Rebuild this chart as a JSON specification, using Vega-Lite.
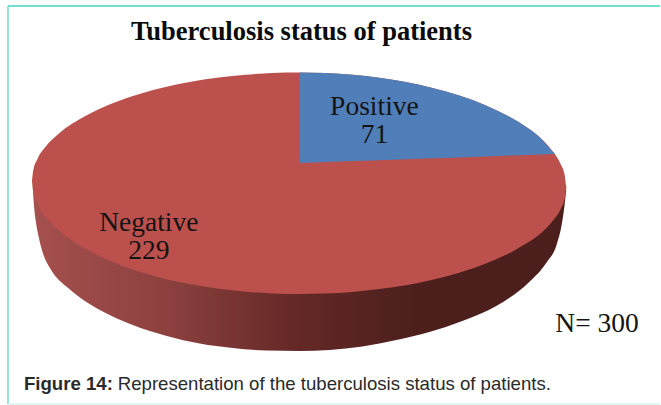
{"$schema":"https://vega.github.io/schema/vega-lite/v6.json","width":661,"height":405,"padding":0,"autosize":{"type":"fit","contains":"padding"},"background":"white","view":{"stroke":null},
"encoding":{"x":{"field":"x","type":"quantitative","scale":{"domain":[0,661]},"axis":null},"y":{"field":"y","type":"quantitative","scale":{"domain":[405,0]},"axis":null}},
"layer":[
{"data":{"values":[{"x":8,"y":6,"x2":661,"y2":6,"c":"#45d6bd"},{"x":8,"y":6,"x2":8,"y2":404,"c":"#6fdfcb"},{"x":8,"y":404,"x2":661,"y2":404,"c":"#d5f5ef"}]},"mark":{"type":"rule","strokeWidth":1.5},"encoding":{"x2":{"field":"x2"},"y2":{"field":"y2"},"color":{"field":"c","type":"nominal","scale":null}}},
{"data":{"values":[{"x":33,"y":185,"y2":190},{"x":34,"y":185,"y2":205},{"x":36,"y":185,"y2":222},{"x":39,"y":185,"y2":238},{"x":42,"y":185,"y2":250},{"x":50,"y":185,"y2":268},{"x":58,"y":185,"y2":279},{"x":67,"y":185,"y2":287},{"x":82,"y":185,"y2":299},{"x":100,"y":185,"y2":310},{"x":133,"y":185,"y2":325},{"x":167,"y":185,"y2":336},{"x":200,"y":185,"y2":343.5},{"x":233,"y":185,"y2":348},{"x":267,"y":185,"y2":350.5},{"x":300,"y":185,"y2":351},{"x":330,"y":185,"y2":350},{"x":363,"y":185,"y2":346.5},{"x":397,"y":185,"y2":340},{"x":430,"y":185,"y2":332},{"x":463,"y":185,"y2":321},{"x":497,"y":185,"y2":306},{"x":530,"y":185,"y2":282},{"x":547,"y":185,"y2":263},{"x":558,"y":185,"y2":243},{"x":563,"y":185,"y2":222},{"x":566,"y":185,"y2":200},{"x":567,"y":185,"y2":190}]},"mark":{"type":"area","interpolate":"monotone","fill":{"gradient":"linear","x1":0,"y1":0,"x2":1,"y2":0,"stops":[{"offset":0,"color":"#a5504e"},{"offset":0.25,"color":"#8c413f"},{"offset":0.5,"color":"#632826"},{"offset":0.72,"color":"#4c1f1d"},{"offset":1,"color":"#4c1f1d"}]}},"encoding":{"y2":{"field":"y2"}}},
{"data":{"values":[{"x":32,"y":181,"y2":181},{"x":33.3,"y":170.2,"y2":192.3},{"x":37.3,"y":159.4,"y2":203.5},{"x":45.4,"y":147.1,"y2":216.3},{"x":58.7,"y":133.7,"y2":230.3},{"x":72.1,"y":123.8,"y2":240.4},{"x":85.5,"y":115.9,"y2":248.8},{"x":112.2,"y":103.5,"y2":261.7},{"x":139,"y":94.2,"y2":271.4},{"x":165.7,"y":87,"y2":278.9},{"x":192.5,"y":81.5,"y2":284.6},{"x":219.2,"y":77.5,"y2":288.8},{"x":246,"y":74.7,"y2":291.7},{"x":272.7,"y":73,"y2":293.4},{"x":299.5,"y":72.5,"y2":294},{"x":326.3,"y":73.1,"y2":293.5},{"x":353,"y":74.8,"y2":291.9},{"x":379.8,"y":77.8,"y2":289.1},{"x":406.5,"y":82,"y2":285.2},{"x":433.2,"y":87.9,"y2":279.7},{"x":460,"y":95.5,"y2":272.7},{"x":486.7,"y":105.4,"y2":263.5},{"x":513.4,"y":118.5,"y2":251.4},{"x":527,"y":126.9,"y2":243.6},{"x":540.8,"y":137.4,"y2":234},{"x":553.6,"y":151.6,"y2":220.7},{"x":561.7,"y":164.6,"y2":208.8},{"x":565.7,"y":176,"y2":198.1},{"x":567,"y":187.5,"y2":187.5}]},"mark":{"type":"area","interpolate":"monotone","fill":"#bc504d"},"encoding":{"y2":{"field":"y2"}}},
{"data":{"values":[{"x":300,"y":72.5,"y2":163},{"x":326.3,"y":73.1,"y2":162.1},{"x":353,"y":74.8,"y2":161.1},{"x":379.8,"y":77.8,"y2":160.2},{"x":406.5,"y":82,"y2":159.3},{"x":433.2,"y":87.9,"y2":158.3},{"x":460,"y":95.5,"y2":157.4},{"x":486.7,"y":105.4,"y2":156.4},{"x":513.4,"y":118.5,"y2":155.5},{"x":527,"y":126.9,"y2":155},{"x":540.8,"y":137.4,"y2":154.5},{"x":553.6,"y":151.6,"y2":154.1},{"x":556,"y":154,"y2":154}]},"mark":{"type":"area","interpolate":"monotone","fill":"#4f7eb9"},"encoding":{"y2":{"field":"y2"}}},
{"data":{"values":[{"x":302,"y":32,"t":"Tuberculosis status of patients"}]},"mark":{"type":"text","font":"Liberation Serif","fontWeight":"bold","fontSize":26.5,"color":"#0a0a0a","align":"center","baseline":"middle"},"encoding":{"text":{"field":"t"}}},
{"data":{"values":[{"x":375,"y":107,"t":"Positive"},{"x":375,"y":135,"t":"71"},{"x":149,"y":223,"t":"Negative"},{"x":149,"y":251,"t":"229"},{"x":598,"y":324,"t":"N= 300"}]},"mark":{"type":"text","font":"Liberation Serif","fontSize":27.5,"color":"#141414","align":"center","baseline":"middle"},"encoding":{"text":{"field":"t"}}},
{"data":{"values":[{"x":24,"y":384,"t":"Figure 14:"}]},"mark":{"type":"text","font":"Liberation Sans","fontWeight":"bold","fontSize":18.6,"color":"#2a2a2a","align":"left","baseline":"middle"},"encoding":{"text":{"field":"t"}}},
{"data":{"values":[{"x":118,"y":384,"t":"Representation of the tuberculosis status of patients."}]},"mark":{"type":"text","font":"Liberation Sans","fontSize":18.6,"color":"#2a2a2a","align":"left","baseline":"middle"},"encoding":{"text":{"field":"t"}}}
]}
